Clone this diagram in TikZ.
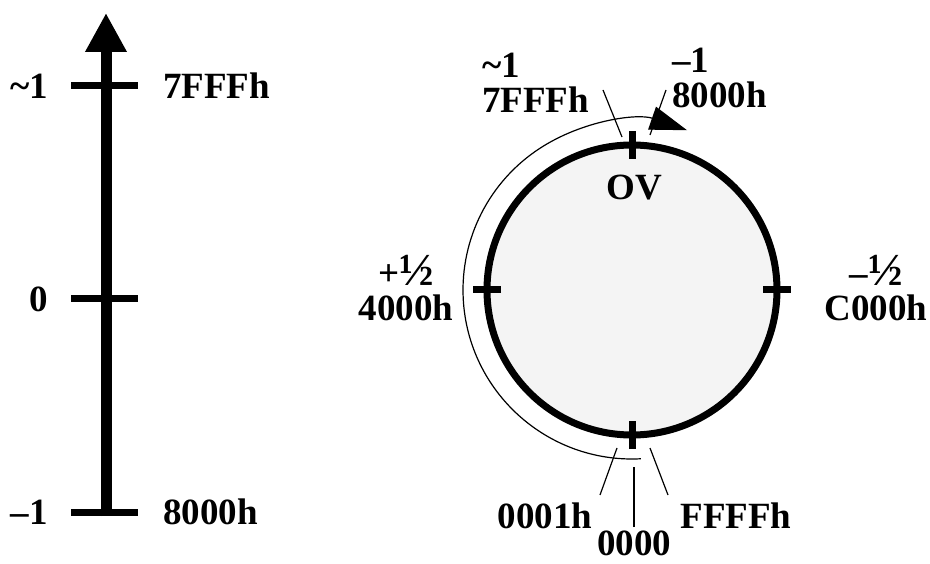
\documentclass[tikz,border=0pt]{standalone}
\usepackage{fontspec}
\setmainfont{Liberation Serif}
\usetikzlibrary{arrows.meta, positioning, calc}
\definecolor{dialFill}{RGB}{244,244,244}
\newcommand{\tildeone}{{\char"7E}1}
\newcommand{\bighalf}{{\fontsize{46}{46}\selectfont ½}}

\begin{document}
\begin{tikzpicture}[
  x=1pt, y=-1pt,
  lbl/.style={inner sep=0pt, font=\fontsize{37}{35}\selectfont\bfseries},
  tick/.style={line width=7pt},
  pointer/.style={line width=1.2pt},
  >=Triangle
]
  \useasboundingbox (0,0) rectangle (930,564);

  % linear scale
  \coordinate (Abot) at (106,516);
  \coordinate (Atop) at (106,13);
  \draw[line width=11pt, -{Triangle[length=39pt,width=39pt]}] (Abot) -- (Atop);
  \foreach \y/\nm in {86/hi, 299/mid, 512/lo} {
    \coordinate (T\nm l) at (71,\y);
    \coordinate (T\nm r) at (138,\y);
    \draw[tick] (T\nm l) -- (T\nm r);
  }
  \node[lbl, left=23pt of Thil] (Lhi) {\tildeone};
  \node[lbl, left=23pt of Tmidl] (Lmid) {0};
  \node[lbl, left=23pt of Tlol] (Llo) {–1};
  \node[lbl, right=25pt of Thir] (Rhi) {7FFFh};
  \node[lbl, right=25pt of Tlor] (Rlo) {8000h};

  % circular scale
  \coordinate (C) at (632,290);
  \draw[line width=7pt, fill=dialFill] (C) circle[radius=145];
  \foreach \a in {0,90,180,270}
    \draw[tick] ([shift={(\a:131)}]C) -- ([shift={(\a:159)}]C);
  \draw[pointer, -{Triangle[length=37pt,width=24pt]}]
    ([shift={(87:169)}]C) arc[start angle=87, end angle=289, radius=169];

  \node[lbl, anchor=north west, align=left] (Ctop) at (482,53) {\tildeone\\7FFFh};
  \node[lbl, anchor=north west, align=left] (Cwrap) at (672,48) {–1\\8000h};
  \node[lbl, anchor=base] (OV) at (634,200) {OV};
  \node[lbl, anchor=north, align=center] (Cleft) at (406,255) {+\bighalf\\4000h};
  \node[lbl, anchor=north, align=center] (Cright) at (876,255) {–\bighalf\\C000h};
  \node[lbl, anchor=base] (Cbl) at (545,528) {0001h};
  \node[lbl, anchor=base] (Cbot) at (634,555) {0000};
  \node[lbl, anchor=base] (Cbr) at (736,528) {FFFFh};

  \coordinate (p7a) at (603,90);  \coordinate (p7b) at (622,137);
  \coordinate (p8a) at (666,90);  \coordinate (p8b) at (650,135);
  \coordinate (p1a) at (600,495); \coordinate (p1b) at (617,448);
  \coordinate (p0a) at (634,527); \coordinate (p0b) at (634,467);
  \coordinate (pFa) at (668,495); \coordinate (pFb) at (650,448);
  \foreach \p in {p7, p8, p1, p0, pF}
    \draw[pointer] (\p a) -- (\p b);
\end{tikzpicture}
\end{document}
